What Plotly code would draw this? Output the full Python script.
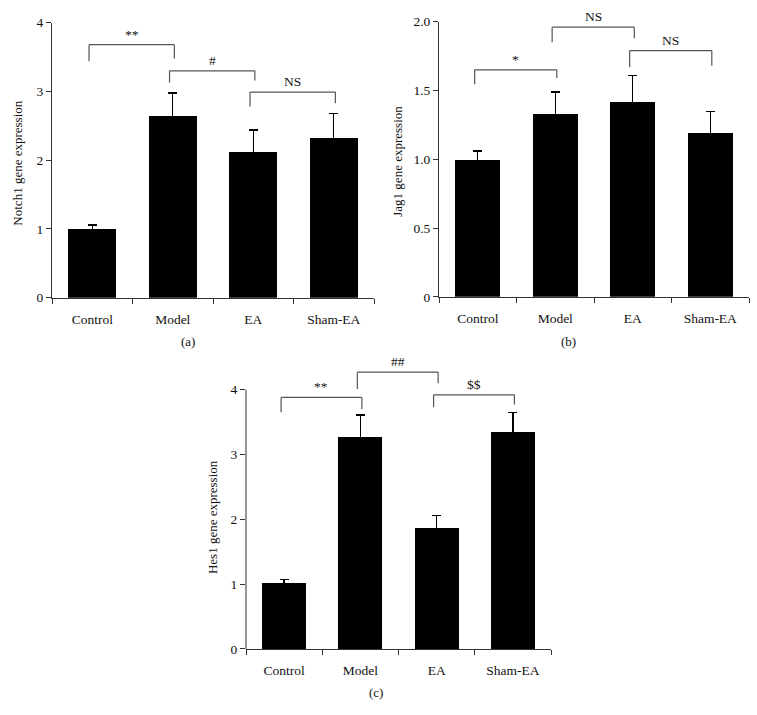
import plotly.graph_objects as go

# ---------------- data ----------------
categories = ["Control", "Model", "EA", "Sham-EA"]

notch1_mean = [1.01, 2.65, 2.12, 2.33]
notch1_err = [0.05, 0.33, 0.32, 0.35]

jag1_mean = [1.00, 1.33, 1.42, 1.19]
jag1_err = [0.06, 0.16, 0.19, 0.155]

hes1_mean = [1.02, 3.27, 1.86, 3.34]
hes1_err = [0.05, 0.34, 0.20, 0.31]

notch1_ticks = [0, 1, 2, 3, 4]
jag1_ticks = [0, 0.5, 1.0, 1.5, 2.0]
jag1_ticktext = ["0", "0.5", "1.0", "1.5", "2.0"]
hes1_ticks = [0, 1, 2, 3, 4]

# significance brackets: label, left group, right group, top, left-leg end, right-leg end
notch1_brackets = [("**", 0, 1, 3.68, 3.44, 3.48),
                   ("#", 1, 2, 3.30, 3.13, 3.16),
                   ("NS", 2, 3, 2.99, 2.78, 2.83)]
jag1_brackets = [("*", 0, 1, 1.65, 1.545, 1.59),
                 ("NS", 1, 2, 1.96, 1.85, 1.88),
                 ("NS", 2, 3, 1.79, 1.67, 1.68)]
hes1_brackets = [("**", 0, 1, 3.88, 3.65, 3.70),
                 ("##", 1, 2, 4.27, 4.01, 4.10),
                 ("$$", 2, 3, 3.92, 3.73, 3.77)]

# ---------------- layout helpers ----------------
W, H = 757, 715
FONT = "Liberation Serif, Times New Roman, serif"
TXT = "#111111"
AX = "#333333"
BR = "#555555"


def fx(p):
    return p / W


def fy(p):
    return 1 - p / H


panels = [
    dict(mean=notch1_mean, err=notch1_err, br=notch1_brackets, ticks=notch1_ticks,
         ticktext=[str(t) for t in notch1_ticks], ymax=4, yrange=[0, 4],
         xd=(52, 374), yd=(16, 297), bw=0.6,
         title="Notch1 gene expression", tpos=(18, 160), label="(a)", lpos=(188, 342)),
    dict(mean=jag1_mean, err=jag1_err, br=jag1_brackets, ticks=jag1_ticks,
         ticktext=jag1_ticktext, ymax=2.0, yrange=[0, 2.0],
         xd=(439, 749), yd=(15, 296), bw=0.58,
         title="Jag1 gene expression", tpos=(398, 157), label="(b)", lpos=(568, 342)),
    dict(mean=hes1_mean, err=hes1_err, br=hes1_brackets, ticks=hes1_ticks,
         ticktext=[str(t) for t in hes1_ticks], ymax=4, yrange=[0, 4.35],
         xd=(246, 551), yd=(367.7, 655.7), bw=0.58,
         title="Hes1 gene expression", tpos=(212, 521), label="(c)", lpos=(376, 700)),
]

fig = go.Figure()
shapes = []
annotations = []
xs = list(range(len(categories)))

for k, p in enumerate(panels):
    n = "" if k == 0 else str(k + 1)
    xa, ya = "x" + n, "y" + n
    fig.add_trace(go.Bar(
        x=xs, y=p["mean"], width=p["bw"], xaxis=xa, yaxis=ya,
        marker=dict(color="black", line=dict(width=0)),
        error_y=dict(type="data", array=p["err"], symmetric=True,
                     color="black", thickness=1.4, width=4.5),
        showlegend=False, hoverinfo="skip"))

    line_on_axis = p["yrange"][1] == p["ymax"]
    fig.layout["xaxis" + n] = dict(
        domain=[fx(p["xd"][0]), fx(p["xd"][1])], anchor=ya, range=[-0.5, 3.5],
        tickmode="array", tickvals=xs, ticktext=categories,
        ticks="outside", ticklen=9, tickcolor="rgba(0,0,0,0)",
        minor=dict(tickmode="array", tickvals=[-0.5, 0.5, 1.5, 2.5, 3.5],
                   ticks="outside", ticklen=5, tickwidth=1, tickcolor=AX),
        showline=True, linecolor=AX, linewidth=1, showgrid=False, zeroline=False,
        tickfont=dict(family=FONT, size=13.5, color=TXT), fixedrange=True)
    fig.layout["yaxis" + n] = dict(
        domain=[fy(p["yd"][1]), fy(p["yd"][0])], anchor=xa, range=p["yrange"],
        tickmode="array", tickvals=p["ticks"], ticktext=p["ticktext"],
        ticks="outside", ticklen=5, tickwidth=1, tickcolor=AX,
        showline=line_on_axis, linecolor=AX, linewidth=1,
        showgrid=False, zeroline=False,
        tickfont=dict(family=FONT, size=13.5, color=TXT), fixedrange=True)
    if not line_on_axis:
        shapes.append(dict(type="line", xref=xa + " domain", yref=ya,
                           x0=0, x1=0, y0=0, y1=p["ymax"],
                           line=dict(color=AX, width=1)))

    for (lab, i, j, top, lb, rb) in p["br"]:
        xl, xr = i - 0.04, j + 0.02
        for (x0, y0, x1, y1) in [(xl, lb, xl, top), (xl, top, xr, top), (xr, top, xr, rb)]:
            shapes.append(dict(type="line", xref=xa, yref=ya, x0=x0, y0=y0, x1=x1, y1=y1,
                               line=dict(color=BR, width=1.2)))
        annotations.append(dict(xref=xa, yref=ya, x=(xl + xr) / 2, y=top, text=lab,
                                showarrow=False, yanchor="bottom", yshift=1,
                                font=dict(family=FONT, size=13.5, color=TXT)))

    annotations.append(dict(xref="paper", yref="paper", x=fx(p["tpos"][0]), y=fy(p["tpos"][1]),
                            text=p["title"], textangle=-90, showarrow=False,
                            xanchor="center", yanchor="middle",
                            font=dict(family=FONT, size=13, color=TXT)))
    annotations.append(dict(xref="paper", yref="paper", x=fx(p["lpos"][0]), y=fy(p["lpos"][1]),
                            text=p["label"], showarrow=False,
                            xanchor="center", yanchor="middle",
                            font=dict(family=FONT, size=13, color=TXT)))

fig.update_layout(width=W, height=H, margin=dict(l=0, r=0, t=0, b=0),
                  paper_bgcolor="white", plot_bgcolor="white",
                  shapes=shapes, annotations=annotations, bargap=0)

fig.write_html("out.html", config={"displayModeBar": False},
               post_script="document.body.style.margin='0';document.body.style.overflow='hidden';")
